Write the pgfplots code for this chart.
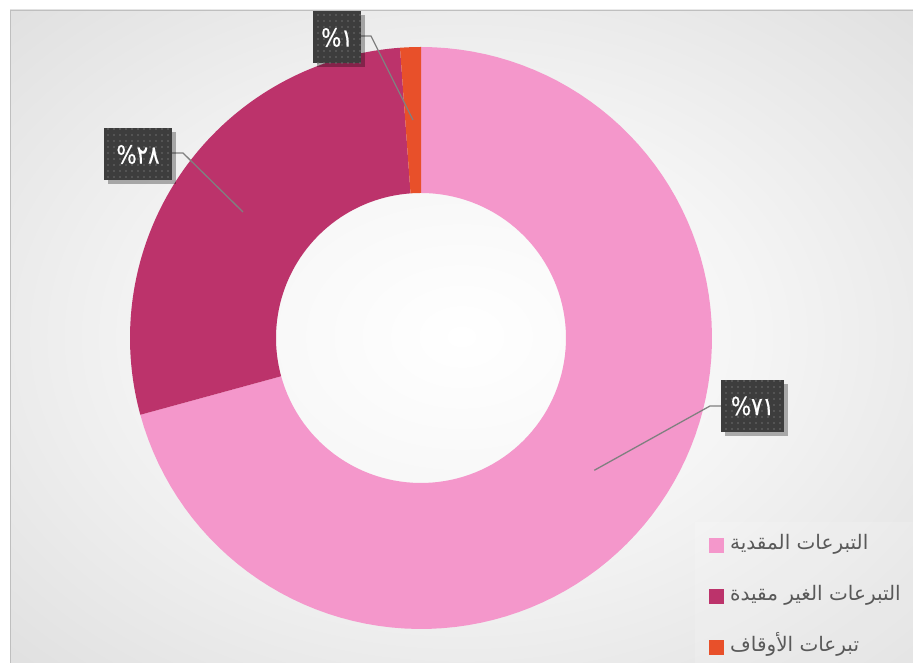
\documentclass[border=0pt]{standalone}
\usepackage{pgfplots}
\pgfplotsset{compat=1.18}
\usepackage{fontspec}
\setmainfont{DejaVu Sans}
\newfontfamily\arabicfont[Script=Arabic]{DejaVu Sans}
\newfontfamily\numfont[FakeStretch=0.85,FakeBold=0.6]{DejaVu Sans}
\TeXXeTstate=1
\usetikzlibrary{shadows,patterns.meta}
\definecolor{cPink}{HTML}{F497CB}
\definecolor{cMag}{HTML}{BC336B}
\definecolor{cOrange}{HTML}{E8502A}
\definecolor{boxc}{HTML}{3D3D3D}
\definecolor{legtext}{HTML}{595959}
\definecolor{leadc}{HTML}{808080}
\definecolor{framec}{HTML}{BFBFBF}
\pgfdeclareradialshading{bgshade}{\pgfpoint{0bp}{0bp}}{color(0bp)=(white); color(16bp)=(white!96!black); color(50bp)=(white!82!black); color(71bp)=(white!76!black)}
\tikzset{
  lbl/.style={fill=boxc, text=white, minimum height=52pt, inner xsep=8pt,
    font=\numfont\fontsize{25}{29}\selectfont,
    drop shadow={shadow xshift=4pt, shadow yshift=-4pt, opacity=0.3, fill=black},
    postaction={pattern={Dots[distance=6pt, radius=0.9pt]}, pattern color=white!25!boxc}},
  leader/.style={draw=leadc, line width=1.3pt}
}
\begin{document}
\begin{tikzpicture}
\useasboundingbox (0pt,0pt) rectangle (913pt,663pt);
\shade[shading=bgshade] (10pt,0pt) rectangle (913pt,653pt);
\draw[framec, line width=1pt] (10.5pt,-5pt) -- (10.5pt,652.5pt) -- (920pt,652.5pt);
\fill[white, opacity=0.15] (695pt,-5pt) rectangle (920pt,141pt);
\begin{axis}[
  at={(0pt,0pt)}, anchor=south west,
  scale only axis, width=913pt, height=663pt,
  xmin=0, xmax=913, ymin=0, ymax=663,
  hide axis, clip=false,
  legend image code/.code={\fill[#1] (0pt,-7.5pt) rectangle (15pt,7.5pt);},
  legend style={at={(axis cs:709,130)}, anchor=north west, draw=none, fill=none,
     font=\arabicfont\fontsize{20}{24}\selectfont, text=legtext,
     row sep=27pt, inner sep=0pt,
     nodes={inner sep=2pt, text height=14pt, text depth=6pt},
     /tikz/every odd column/.style={column sep=4pt}},
  legend cell align=left,
]
% slices: percent start -> percent end, clockwise from top; outer r=291, inner r=145
\addplot[fill=cPink, draw=none, variable=\t, samples at={0,1,...,100,200,201,...,300}]
 ({421 + (\t<150 ? 291 : 145)*sin(3.6*(0 + 70.75*(\t<150 ? \t : 300-\t)/100))},
  {325 + (\t<150 ? 291 : 145)*cos(3.6*(0 + 70.75*(\t<150 ? \t : 300-\t)/100))});
\addlegendentry{\beginR التبرعات المقدية\endR}
\addplot[fill=cMag, draw=none, variable=\t, samples at={0,1,...,100,200,201,...,300}]
 ({421 + (\t<150 ? 291 : 145)*sin(3.6*(70.75 + 28.10*(\t<150 ? \t : 300-\t)/100))},
  {325 + (\t<150 ? 291 : 145)*cos(3.6*(70.75 + 28.10*(\t<150 ? \t : 300-\t)/100))});
\addlegendentry{\beginR التبرعات الغير مقيدة\endR}
\addplot[fill=cOrange, draw=none, variable=\t, samples at={0,1,...,100,200,201,...,300}]
 ({421 + (\t<150 ? 291 : 145)*sin(3.6*(98.85 + 1.15*(\t<150 ? \t : 300-\t)/100))},
  {325 + (\t<150 ? 291 : 145)*cos(3.6*(98.85 + 1.15*(\t<150 ? \t : 300-\t)/100))});
\addlegendentry{\beginR تبرعات الأوقاف\endR}
% leader lines
\draw[leader] (axis cs:594.3,192.7) -- (axis cs:710,257) -- (axis cs:721,257);
\draw[leader] (axis cs:243,451) -- (axis cs:183,510) -- (axis cs:172,510);
\draw[leader] (axis cs:413,543) -- (axis cs:371,627) -- (axis cs:360,627);
% data labels
\node[lbl, minimum width=63pt] at (axis cs:752.5,257) {\%٧١};
\node[lbl, minimum width=68pt] at (axis cs:138,508.5) {\%٢٨};
\node[lbl, minimum width=46pt] at (axis cs:337,625.5) {\%١};
\end{axis}
\end{tikzpicture}
\end{document}
